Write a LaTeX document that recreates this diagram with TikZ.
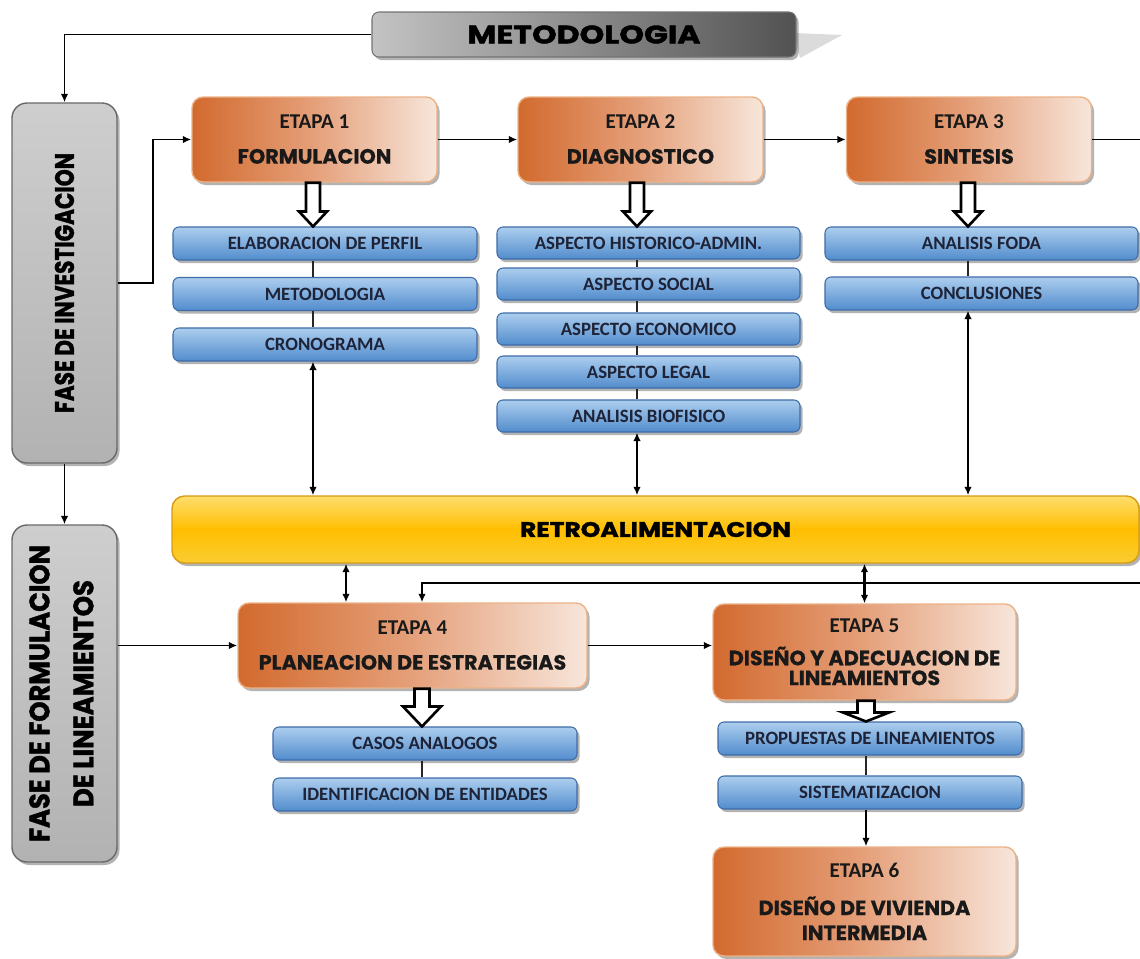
\documentclass[tikz,border=0pt]{standalone}
\usepackage{fontspec}
\usepackage{graphicx}
\setmainfont{Carlito}
\newfontfamily\heavy{Poppins}[BoldFeatures={FakeBold=1.5}]
\newfontfamily\ttl{Poppins}[BoldFeatures={FakeBold=0.6}]
\usetikzlibrary{shadows,calc,arrows.meta}
\definecolor{orA}{RGB}{210,106,46}
\definecolor{orB}{RGB}{247,230,219}
\definecolor{orM}{RGB}{229,160,122}
\definecolor{orE}{RGB}{236,178,135}
\definecolor{blA}{RGB}{172,206,238}
\definecolor{blB}{RGB}{82,140,205}
\definecolor{blE}{RGB}{62,108,168}
\definecolor{blT}{RGB}{30,35,55}
\definecolor{yeA}{RGB}{255,222,110}
\definecolor{yeM}{RGB}{255,190,0}
\definecolor{yeB}{RGB}{250,205,50}
\definecolor{yeE}{RGB}{215,155,20}
\definecolor{grA}{RGB}{206,206,206}
\definecolor{grB}{RGB}{178,178,178}
\definecolor{grE}{RGB}{105,105,105}
\definecolor{meA}{RGB}{195,195,195}
\definecolor{meB}{RGB}{82,82,82}
\newcommand\hv[3]{\resizebox{#1}{#2}{\heavy\bfseries #3}}
\newcommand\lbl[1]{{\rmfamily\fontsize{12}{14}\selectfont\bfseries #1}}
\newcommand\hollowarrow[5]{%
  \path (#1) coordinate (hat) (#2) coordinate (hab);
  \draw[hollow] ($(hat)+(-#3,0)$) -- ($(hab)+(-#3,-#5)$) -- ($(hab)+(-#4,-#5)$) -- (hab)
    -- ($(hab)+(#4,-#5)$) -- ($(hab)+(#3,-#5)$) -- ($(hat)+(#3,0)$) -- cycle;}
\begin{document}
\begin{tikzpicture}[x=0.02cm,y=-0.02cm,
  sz/.style 2 args={minimum width=#1*0.02cm, minimum height=#2*0.02cm},
  sh/.style={drop shadow={shadow xshift=0.05cm,shadow yshift=-0.06cm,opacity=0.4,fill=black!75}},
  orangebox/.style={sh, rounded corners=0.22cm, draw=orE, line width=0.8pt,
    left color=orA, right color=orB, middle color=orM, inner sep=0pt, align=center,
    text=black!90},
  bluebox/.style={sh, rounded corners=0.12cm, draw=blE, line width=0.6pt,
    top color=blA, bottom color=blB, inner sep=0pt, text=blT,
    font=\fontsize{10.7}{12}\selectfont\bfseries},
  phasebox/.style={sh, rounded corners=0.3cm, draw=grE, line width=0.8pt,
    top color=grA, bottom color=grB, inner sep=0pt},
  conn/.style={line width=1.1pt, draw=black},
  link/.style={line width=1.6pt, draw=black!85},
  dbl/.style={line width=1.3pt, draw=black, {Latex[length=0.17cm,width=0.15cm]}-{Latex[length=0.17cm,width=0.15cm]}},
  arr/.style={-{Latex[length=0.17cm,width=0.15cm]}},
  hollow/.style={draw=black, line width=1.5pt, fill=white, line join=miter}]
\useasboundingbox (0,0) rectangle (1140,958);

% column coordinates
\coordinate (c1) at (313,0);
\coordinate (c2) at (637,0);
\coordinate (c3) at (968,0);
\coordinate (c4) at (422,0);
\coordinate (c45) at (346,0);
\coordinate (c5) at (866,0);
\coordinate (redge1) at (1140,139.5);
\coordinate (redge2) at (1140,583);

% METODOLOGIA
\fill[black!14] (794,33) -- (842,35) -- (800,58) -- cycle;
\node[sh, rounded corners=0.14cm, draw=black!55, line width=0.6pt, left color=meA, right color=meB,
  sz={424}{45}, inner sep=0pt] (meto) at (584,34.5) {\hv{4.66cm}{0.36cm}{METODOLOGIA}};

% phase boxes
\node[phasebox, sz={105}{360}] (fi) at (64.5,283)
  {\rotatebox{90}{\hv{5.2cm}{0.38cm}{FASE DE INVESTIGACION}}};
\node[phasebox, sz={105}{337}] (ff) at (64.5,693.5)
  {\rotatebox{90}{\begin{tabular}{@{}c@{}}\hv{5.94cm}{0.4cm}{FASE DE FORMULACION}\\[10pt]\hv{4.54cm}{0.4cm}{DE LINEAMIENTOS}\end{tabular}}};

% etapas
\node[orangebox, sz={245}{85}, font=\ttl\fontsize{11.8}{14}\selectfont\bfseries] (e1) at (314.5,139.5)
  {\lbl{ETAPA 1}\\[5.8pt]FORMULACION};
\node[orangebox, sz={245}{85}, font=\ttl\fontsize{11.8}{14}\selectfont\bfseries] (e2) at (640.5,139.5)
  {\lbl{ETAPA 2}\\[5.8pt]DIAGNOSTICO};
\node[orangebox, sz={245}{85}, font=\ttl\fontsize{11.8}{14}\selectfont\bfseries] (e3) at (969,139.5)
  {\lbl{ETAPA 3}\\[5.8pt]SINTESIS};
\node[orangebox, sz={349}{85}, font=\ttl\fontsize{11.8}{14}\selectfont\bfseries] (e4) at (412.5,645.5)
  {\lbl{ETAPA 4}\\[5.8pt]PLANEACION DE ESTRATEGIAS};
\node[orangebox, sz={303}{96}, font=\ttl\fontsize{11.8}{11.3}\selectfont\bfseries] (e5) at (864.5,652)
  {\lbl{ETAPA 5}\\[7.4pt]DISEÑO Y ADECUACION DE\\LINEAMIENTOS};
\node[orangebox, sz={303}{109}, font=\ttl\fontsize{11.8}{14.2}\selectfont\bfseries] (e6) at (864.5,901.5)
  {\lbl{ETAPA 6}\\[7.3pt]DISEÑO DE VIVIENDA\\INTERMEDIA};

% blue sub boxes
\node[bluebox, sz={304}{33}] (b11) at (325,243.5) {ELABORACION DE PERFIL};
\node[bluebox, sz={304}{33}] (b12) at (325,294) {METODOLOGIA};
\node[bluebox, sz={304}{33}] (b13) at (325,344.5) {CRONOGRAMA};
\node[bluebox, sz={303}{32}] (b21) at (648.5,243) {ASPECTO HISTORICO-ADMIN.};
\node[bluebox, sz={303}{32}] (b22) at (648.5,284) {ASPECTO SOCIAL};
\node[bluebox, sz={303}{32}] (b23) at (648.5,329) {ASPECTO ECONOMICO};
\node[bluebox, sz={303}{32}] (b24) at (648.5,372) {ASPECTO LEGAL};
\node[bluebox, sz={303}{32}] (b25) at (648.5,416) {ANALISIS BIOFISICO};
\node[bluebox, sz={313}{33}] (b31) at (981.5,243.5) {ANALISIS FODA};
\node[bluebox, sz={313}{33}] (b32) at (981.5,293.5) {CONCLUSIONES};
\node[bluebox, sz={304}{33}] (b41) at (425,743.5) {CASOS ANALOGOS};
\node[bluebox, sz={304}{33}] (b42) at (425,794.5) {IDENTIFICACION DE ENTIDADES};
\node[bluebox, sz={304}{33}] (b51) at (870,738.5) {PROPUESTAS DE LINEAMIENTOS};
\node[bluebox, sz={304}{33}] (b52) at (870,792.5) {SISTEMATIZACION};

% retroalimentacion
\node[sh, rounded corners=0.25cm, draw=yeE, line width=0.8pt, top color=yeA, bottom color=yeB,
  middle color=yeM, sz={967}{67}, inner sep=0pt] (retro) at (655.5,529.5)
  {\hv{5.42cm}{0.3cm}{RETROALIMENTACION}};

% connectors
\draw[conn,arr] (meto.west) -| (fi.north);
\draw[conn,arr] (fi.south) -- (ff.north);
\draw[conn,arr] (fi.east) -- ++(35,0) |- (e1.west);
\draw[conn,arr] (e1.east) -- (e2.west);
\draw[conn,arr] (e2.east) -- (e3.west);
\draw[conn] (e3.east) -- (redge1);
\draw[conn,arr] (redge2) -| (e4.north -| c4);
\draw[conn,arr] (ff.east |- e4.west) -- (e4.west);
\draw[conn,arr] (e4.east) -- (e4.east -| e5.west);

\draw[link] (b11.south -| c1) -- (b12.north -| c1);
\draw[link] (b12.south -| c1) -- (b13.north -| c1);
\draw[link] (b21.south -| c2) -- (b22.north -| c2);
\draw[link] (b22.south -| c2) -- (b23.north -| c2);
\draw[link] (b23.south -| c2) -- (b24.north -| c2);
\draw[link] (b24.south -| c2) -- (b25.north -| c2);
\draw[link] (b31.south -| c3) -- (b32.north -| c3);
\draw[link] (b41.south -| c4) -- (b42.north -| c4);
\draw[link] (b51.south -| c5) -- (b52.north -| c5);
\draw[conn,arr] (b52.south -| c5) -- (e6.north -| c5);

\draw[dbl] (b13.south -| c1) -- (retro.north -| c1);
\draw[dbl] (b25.south -| c2) -- (retro.north -| c2);
\draw[dbl] (b32.south -| c3) -- (retro.north -| c3);
\draw[dbl] (retro.south -| c45) -- (e4.north -| c45);
\draw[dbl] (retro.south -| e5.north) -- (e5.north);

% hollow arrows
\hollowarrow{e1.south -| c1}{b11.north -| c1}{7}{14}{15}
\hollowarrow{e2.south -| c2}{b21.north -| c2}{7}{14}{15}
\hollowarrow{e3.south -| c3}{b31.north -| c3}{7}{14}{15}
\hollowarrow{e4.south -| c4}{b41.north -| c4}{7.5}{19}{20}
\hollowarrow{e5.south -| c5}{b51.north -| c5}{8.5}{23}{9}
\end{tikzpicture}
\end{document}
